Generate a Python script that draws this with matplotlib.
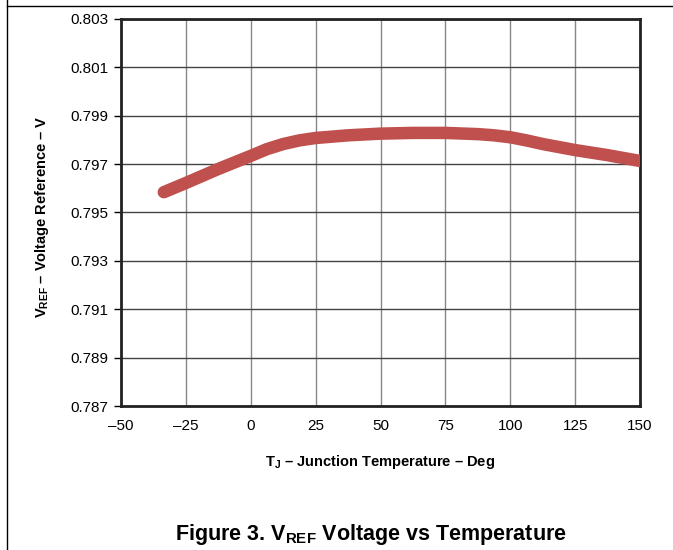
import matplotlib
matplotlib.use("Agg")
import matplotlib.pyplot as plt
from matplotlib.lines import Line2D

# junction temperature (deg C) and reference voltage (V)
temp_c = [-33.5, -25, -12.5, 0, 6.25, 12.5, 18.75, 25, 37.5, 50, 62.5, 75,
          87.5, 93.75, 100, 106.25, 112.5, 125, 137.5, 150]
vref_v = [0.79584, 0.79622, 0.79680, 0.79734, 0.79762, 0.79783, 0.79798, 0.79808,
          0.79819, 0.79826, 0.79829, 0.79829, 0.79824, 0.79819, 0.79811, 0.79798,
          0.79783, 0.79758, 0.79737, 0.79713]

x_ticks = [-50, -25, 0, 25, 50, 75, 100, 125, 150]
x_labels = ["\u201350", "\u201325", "0", "25", "50", "75", "100", "125", "150"]
y_ticks = [0.787, 0.789, 0.791, 0.793, 0.795, 0.797, 0.799, 0.801, 0.803]

plt.rcParams['font.family'] = ['Liberation Sans', 'DejaVu Sans']
plt.rcParams['mathtext.fontset'] = 'custom'
plt.rcParams['mathtext.rm'] = 'Liberation Sans:weight=bold'
plt.rcParams['mathtext.bf'] = 'Liberation Sans:weight=bold'

fig = plt.figure(figsize=(6.73, 5.5), dpi=100)
ax = fig.add_axes([0.1798, 0.2618, 0.7712, 0.7037])

ax.plot(temp_c, vref_v, color='#C0504D', linewidth=9, solid_capstyle='round',
        solid_joinstyle='round', zorder=3)

ax.set_xlim(-50, 150)
ax.set_ylim(0.787, 0.803)
ax.set_xticks(x_ticks)
ax.set_xticklabels(x_labels)
ax.set_yticks(y_ticks)
ax.set_yticklabels(["%.3f" % v for v in y_ticks])
ax.tick_params(axis='x', length=0, pad=9, labelsize=11)
ax.tick_params(axis='y', length=5, width=1, direction='out', pad=4, labelsize=11)

ax.xaxis.grid(True, color='#888888', linewidth=1)
ax.yaxis.grid(True, color='#444444', linewidth=1)
ax.set_axisbelow(True)
for s in ax.spines.values():
    s.set_linewidth(2)
    s.set_color('#222222')

ax.set_xlabel(r"T$_\mathbf{J}$ – Junction Temperature – Deg", fontsize=10.5, fontweight='bold', labelpad=15)
ax.set_ylabel(r"V$_\mathbf{REF}$ – Voltage Reference – V", fontsize=10.5, fontweight='bold')
ax.yaxis.set_label_coords(-0.135, 0.49)

fig.text(0.5505, 0.005, r"Figure 3. V$_\mathbf{REF}$ Voltage vs Temperature", ha='center', va='bottom',
         fontsize=15.5, fontweight='bold')

# page frame lines
fig.add_artist(Line2D([0.0104, 0.0104], [0, 1], transform=fig.transFigure, color='black', linewidth=1))
fig.add_artist(Line2D([0.0104, 1], [0.989, 0.989], transform=fig.transFigure, color='black', linewidth=1))

fig.savefig('out.png', dpi=100)
